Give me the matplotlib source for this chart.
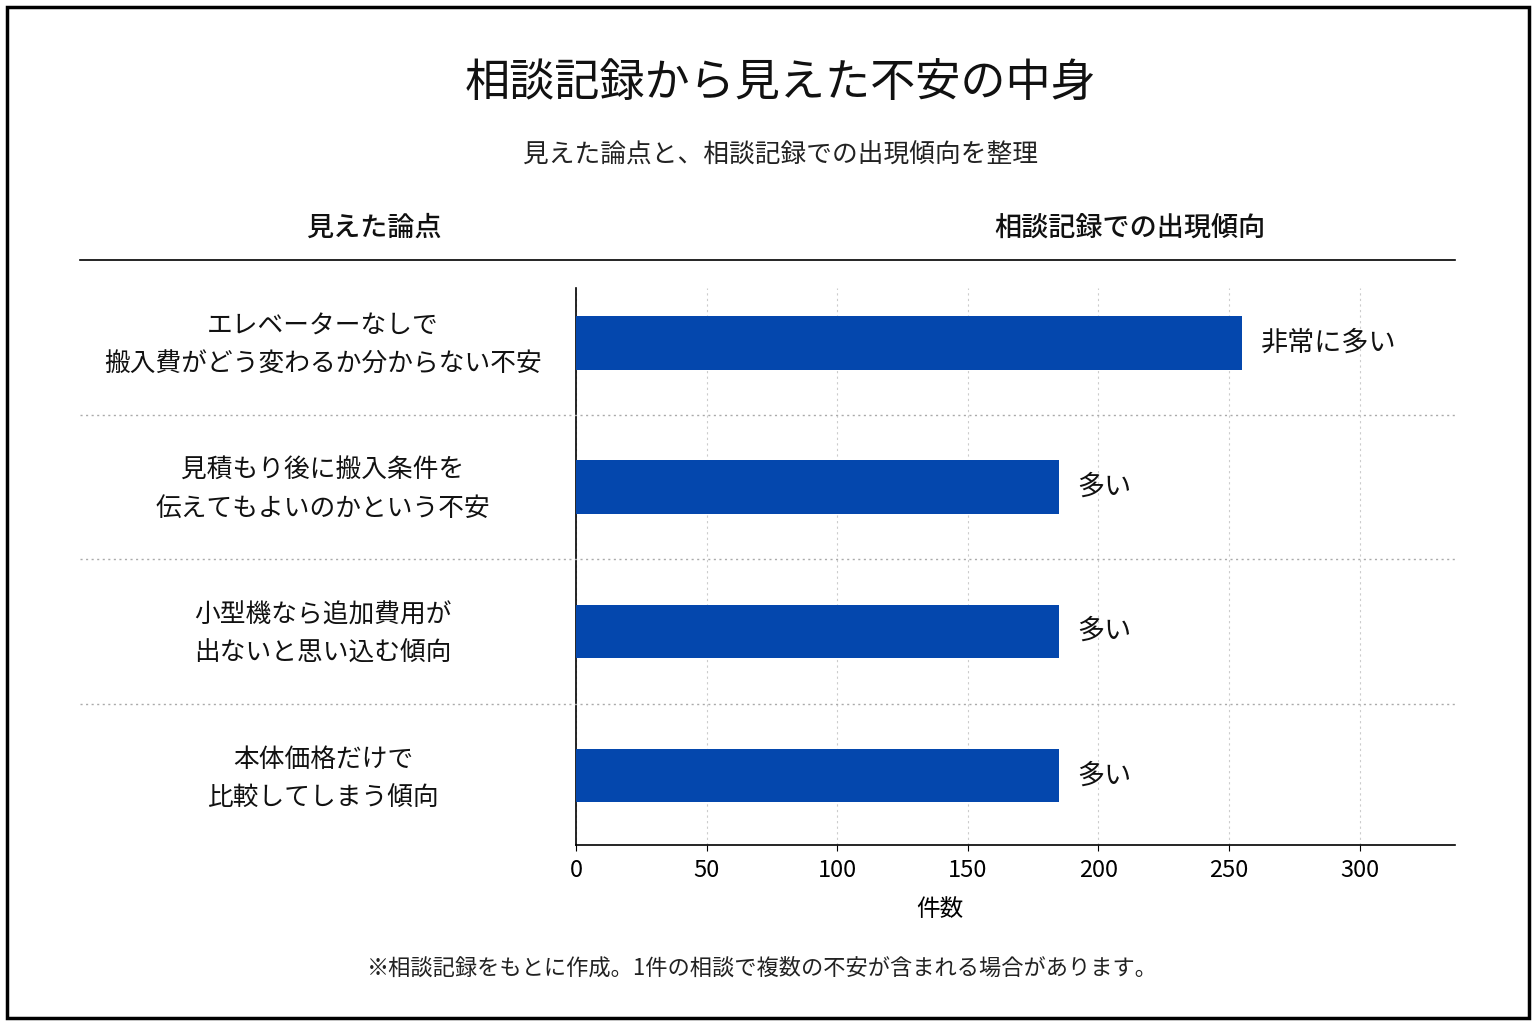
import matplotlib
matplotlib.use("Agg")
import matplotlib.pyplot as plt
from matplotlib.patches import Rectangle
from matplotlib.lines import Line2D

plt.rcParams['font.family'] = ['Noto Sans CJK JP', 'DejaVu Sans']

title = "相談記録から見えた不安の中身"
subtitle = "見えた論点と、相談記録での出現傾向を整理"
left_header = "見えた論点"
right_header = "相談記録での出現傾向"
categories = [
    "エレベーターなしで\n搬入費がどう変わるか分からない不安",
    "見積もり後に搬入条件を\n伝えてもよいのかという不安",
    "小型機なら追加費用が\n出ないと思い込む傾向",
    "本体価格だけで\n比較してしまう傾向",
]
values = [255, 185, 185, 185]
value_labels = ["非常に多い", "多い", "多い", "多い"]
xticks = [0, 50, 100, 150, 200, 250, 300]
xlabel = "件数"
footnote = "※相談記録をもとに作成。1件の相談で複数の不安が含まれる場合があります。"

W, H = 1536, 1024
fig = plt.figure(figsize=(W / 100, H / 100), dpi=100)
fig.patch.set_facecolor("white")

def fx(px):
    return px / W

def fy(py):
    return 1 - py / H

# outer frame
fig.add_artist(Rectangle((fx(7), fy(1018)), fx(1529) - fx(7), fy(7) - fy(1018),
                         transform=fig.transFigure, fill=False, edgecolor="black", linewidth=2.5))

fig.text(fx(781), fy(83), title, ha="center", va="center", fontsize=32.5, color="#111111")
fig.text(fx(780), fy(156), subtitle, ha="center", va="center", fontsize=18.5, color="#222222")
fig.text(fx(374), fy(228), left_header, ha="center", va="center", fontsize=19.5, color="#111111", fontweight="medium")
fig.text(fx(1130), fy(228), right_header, ha="center", va="center", fontsize=19.5, color="#111111", fontweight="medium")
fig.add_artist(Line2D([fx(80), fx(1455)], [fy(260), fy(260)], transform=fig.transFigure,
                      color="black", linewidth=1.2))

ax = fig.add_axes([fx(576), fy(845), fx(1455) - fx(576), fy(288) - fy(845)])
ypos = list(range(len(categories)))
ax.barh(ypos, values, height=0.37, color="#0447AD", zorder=3)
ax.set_ylim(3.48, -0.38)
ax.set_xlim(0, 336.5)
ax.set_xticks(xticks)
ax.set_xticklabels([str(t) for t in xticks], fontsize=17)
ax.set_yticks([])
ax.tick_params(axis="x", length=4, pad=6, color="black")
for s in ["top", "right"]:
    ax.spines[s].set_visible(False)
ax.spines["left"].set_linewidth(1.2)
ax.spines["bottom"].set_linewidth(1.2)
ax.grid(axis="x", linestyle=(0, (2, 3)), color="#cccccc", linewidth=0.8, zorder=0)
ax.set_xlabel(xlabel, fontsize=17, labelpad=8)
ax.xaxis.set_label_coords((940 - 576) / (1455 - 576), -0.095)

for y, v, lab in zip(ypos, values, value_labels):
    ax.text(v + 7, y, lab, ha="left", va="center", fontsize=19.5, color="#111111")

# category labels (left column)
for y, cat in zip(ypos, categories):
    disp = ax.transData.transform((0, y + 0.02))
    fig_y = fig.transFigure.inverted().transform(disp)[1]
    fig.text(fx(323), fig_y, cat, ha="center", va="center", fontsize=18.5, color="#111111",
             linespacing=1.6)

# dotted separators between rows
for i in range(len(categories) - 1):
    disp = ax.transData.transform((0, i + 0.5))
    fig_y = fig.transFigure.inverted().transform(disp)[1]
    fig.add_artist(Line2D([fx(80), fx(1455)], [fig_y, fig_y], transform=fig.transFigure,
                          color="#aaaaaa", linewidth=1.0, linestyle=(0, (1.5, 2.5))))

fig.text(fx(762), fy(968), footnote, ha="center", va="center", fontsize=16, color="#222222")

fig.savefig("out.png", dpi=100, facecolor="white")
